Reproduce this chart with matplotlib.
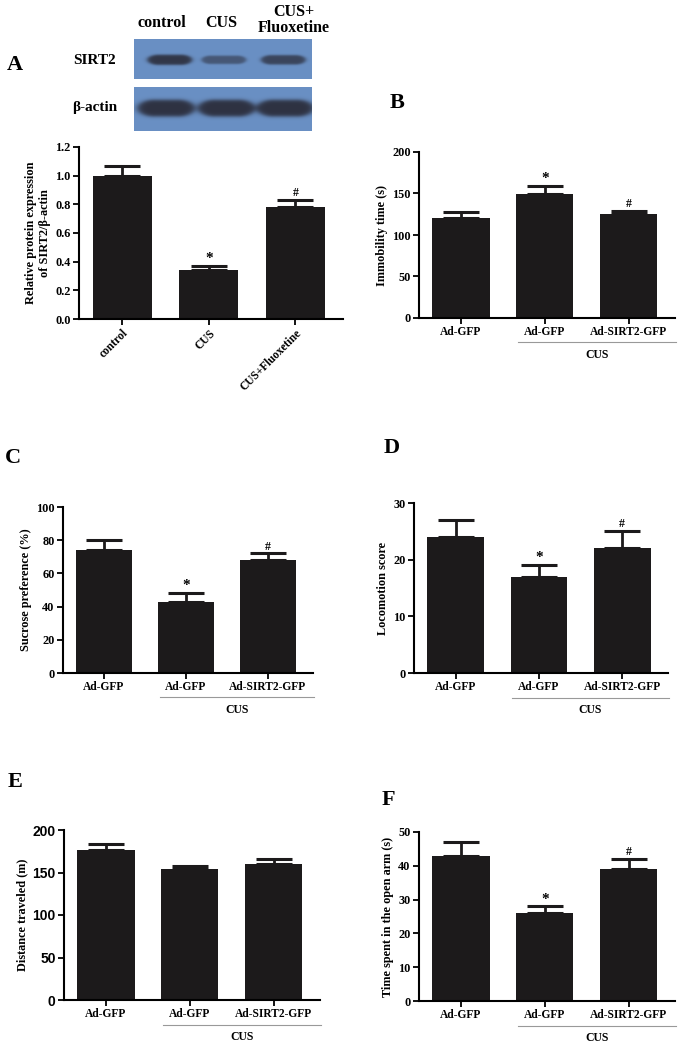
import numpy as np
import matplotlib
matplotlib.use("Agg")
from matplotlib import pyplot as plt
import matplotlib.transforms as mtransforms

plt.rcParams['font.family'] = 'Liberation Serif'
plt.rcParams['font.weight'] = 'bold'
plt.rcParams['axes.labelweight'] = 'bold'

# Data
lanes = ['control', 'CUS', 'CUS+\nFluoxetine']
sirt2_band = [0.95, 0.6, 0.8]
actin_band = [1.0, 1.0, 1.0]

a_labels = ['control', 'CUS', 'CUS+Fluoxetine']
a_mean = [1.00, 0.34, 0.78]
a_err = [0.07, 0.03, 0.05]
a_marks = ['', '*', '#']

groups = ['Ad-GFP', 'Ad-GFP', 'Ad-SIRT2-GFP']

b_mean = [120, 149, 125]
b_err = [8, 10, 4]
b_marks = ['', '*', '#']

c_mean = [74, 43, 68]
c_err = [6, 5, 4]
c_marks = ['', '*', '#']

d_mean = [24, 17, 22]
d_err = [3, 2, 3]
d_marks = ['', '*', '#']

e_mean = [176, 154, 160]
e_err = [7, 4, 6]
e_marks = ['', '', '']

f_mean = [43, 26, 39]
f_err = [4, 2, 3]
f_marks = ['', '*', '#']

W, H = 685, 1043
fig = plt.figure(figsize=(W / 100, H / 100), dpi=100)


def px_axes(x0, y0, x1, y1):
    # pixel box (top-left origin) -> figure axes
    return fig.add_axes([x0 / W, 1 - y1 / H, (x1 - x0) / W, (y1 - y0) / H])


def blot(ax, strength, centers, halfw, yc, halfh):
    nx, ny = 360, 90
    xx, yy = np.meshgrid(np.linspace(0, 1, nx), np.linspace(0, 1, ny))
    dark = np.zeros_like(xx)
    for cx, s in zip(centers, strength):
        hh = halfh * (0.5 + 0.5 * s)
        # rounded band: ellipse-ish ends
        dx = np.clip((np.abs(xx - cx) - (halfw - hh * 0.5)) / (hh * 0.5 + 1e-9), 0, None)
        r = np.sqrt(dx ** 2 + ((yy - yc) / hh) ** 2)
        dark += s * 1 / (1 + np.exp((r - 1) * 8))
    dark = np.clip(dark, 0, 1)
    bg = np.array([106, 144, 196]) / 255
    fg = np.array([46, 50, 66]) / 255
    img = bg[None, None, :] * (1 - dark[..., None]) + fg[None, None, :] * dark[..., None]
    ax.imshow(img, extent=[0, 1, 0, 1], aspect='auto', interpolation='bilinear')
    ax.set_xticks([])
    ax.set_yticks([])
    for s in ax.spines.values():
        s.set_visible(False)


ax_s = px_axes(134, 39, 312, 79)
blot(ax_s, sirt2_band, [0.2, 0.505, 0.84], 0.125, 0.52, 0.13)
ax_b = px_axes(134, 87, 312, 131)
blot(ax_b, actin_band, [0.18, 0.52, 0.85], 0.16, 0.48, 0.19)

lane_x = [162, 221, 294]
for lx, name in zip(lane_x, lanes):
    ly = 20 if '\n' in name else 23
    fig.text(lx / W, 1 - ly / H, name, ha='center', va='center', fontsize=11.5,
             linespacing=0.95)
fig.text(95 / W, 1 - 60 / H, 'SIRT2', ha='center', va='center', fontsize=11)
fig.text(95 / W, 1 - 108 / H, 'β-actin', ha='center', va='center', fontsize=11)


def bar_panel(ax, mean, err, marks, ylim, yticks, ylabel, xlabels, fmt='%d',
              cus=True, tickfont=None):
    x = np.arange(len(mean))
    ax.bar(x, mean, width=0.68, color='#1c1a1b', zorder=2)
    ax.errorbar(x, mean, yerr=[np.zeros(len(err)), err], fmt='none',
                ecolor='#1c1a1b', elinewidth=2, capsize=13, capthick=2.2, zorder=1)
    ax.set_xlim(-0.5, 2.55)
    ax.set_ylim(*ylim)
    ax.set_yticks(yticks)
    ax.set_yticklabels([fmt % t for t in yticks])
    ax.set_xticks(x)
    ax.set_xticklabels(xlabels, fontsize=8.3)
    ax.set_ylabel(ylabel, fontsize=8.8, labelpad=3)
    for s in ['top', 'right']:
        ax.spines[s].set_visible(False)
    for s in ['left', 'bottom']:
        ax.spines[s].set_linewidth(1.5)
    ax.tick_params(width=1.3, length=4, labelsize=8.8, pad=2)
    ax.tick_params(axis='x', labelsize=8.3)
    if tickfont:
        for t in ax.get_yticklabels():
            t.set_fontfamily(tickfont)
            t.set_fontsize(10)
    span = ylim[1] - ylim[0]
    for xi, m, e, mk in zip(x, mean, err, marks):
        if mk:
            ax.text(xi, m + e + span * 0.005, mk, ha='center', va='bottom',
                    fontsize=11 if mk == '*' else 8.5)
    if cus:
        trans = mtransforms.blended_transform_factory(ax.transData, ax.transAxes)
        ax.plot([0.68, 2.56], [-0.145, -0.145], color='#999999', lw=0.8,
                transform=trans, clip_on=False)
        ax.text(1.62, -0.22, 'CUS', ha='center', va='center', fontsize=8.5,
                transform=trans)


# Panel A
ax = px_axes(79, 147, 343, 319)
bar_panel(ax, a_mean, a_err, a_marks, (0, 1.2), np.arange(0, 1.21, 0.2),
          '', a_labels, fmt='%.1f', cus=False)
plt.setp(ax.get_xticklabels(), rotation=45, ha='right', rotation_mode='anchor')
ax.set_ylabel('Relative protein expression\nof SIRT2/β-actin', fontsize=8.8,
              labelpad=3, linespacing=1.25)

# Panel B
ax = px_axes(419, 152, 675, 318)
bar_panel(ax, b_mean, b_err, b_marks, (0, 200), [0, 50, 100, 150, 200],
          'Immobility time (s)', groups)

# Panel C
ax = px_axes(63, 507, 313, 673)
bar_panel(ax, c_mean, c_err, c_marks, (0, 100), [0, 20, 40, 60, 80, 100],
          'Sucrose preference (%)', groups)

# Panel D
ax = px_axes(414, 503, 668, 673)
bar_panel(ax, d_mean, d_err, d_marks, (0, 30), [0, 10, 20, 30],
          'Locomotion score', groups)

# Panel E
ax = px_axes(64, 830, 320, 1000)
bar_panel(ax, e_mean, e_err, e_marks, (0, 200), [0, 50, 100, 150, 200],
          'Distance traveled (m)', groups, tickfont='Liberation Sans')

# Panel F
ax = px_axes(419, 832, 675, 1001)
bar_panel(ax, f_mean, f_err, f_marks, (0, 50), [0, 10, 20, 30, 40, 50],
          'Time spent in the open arm (s)', groups)

# panel letters
for letter, (lx, ly) in zip('ABCDEF', [(15, 65), (397, 103), (13, 458),
                                        (392, 448), (15, 782), (388, 800)]):
    fig.text(lx / W, 1 - ly / H, letter, ha='center', va='center', fontsize=16)

fig.savefig('out.png', dpi=100, facecolor='white')
